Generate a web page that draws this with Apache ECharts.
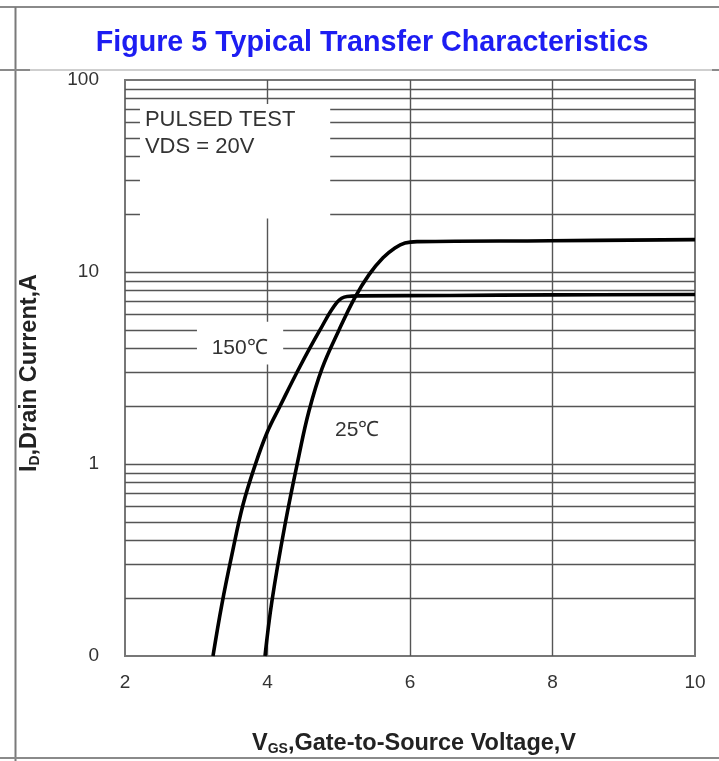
<!DOCTYPE html>
<html><head><meta charset="utf-8">
<script src="https://cdn.jsdelivr.net/npm/echarts@6/dist/echarts.min.js"></script>
<style>html,body{margin:0;padding:0;background:#fff}#c{width:719px;height:761px}</style>
</head><body><div id="c"></div>
<script>
// ---------- data ----------
const chartTitle = 'Figure 5 Typical Transfer Characteristics';
const xTicks = [2, 4, 6, 8, 10];
const yTicks = [0.1, 1, 10, 100];
const yTickLabels = ['0', '1', '10', '100'];
const vgs150 = [3.235, 3.361, 3.502, 3.656, 3.825, 3.993, 4.175, 4.456, 4.737, 4.975, 5.116, 5.298, 6.56, 7.965, 10];
const id150  = [0.1, 0.187, 0.339, 0.613, 0.984, 1.455, 2.00, 3.22, 4.99, 6.95, 7.46, 7.51, 7.55, 7.60, 7.64];
const vgs25 = [3.965, 4.063, 4.246, 4.442, 4.582, 4.765, 5.004, 5.228, 5.425, 5.621, 5.789, 5.930, 6.112, 7.965, 10];
const id25  = [0.1, 0.194, 0.484, 1.109, 1.888, 3.14, 4.99, 7.38, 9.69, 11.86, 13.34, 14.16, 14.4, 14.55, 14.75];
const gridY = [0.2,0.3,0.4,0.5,0.6,0.7,0.8,0.9,1,2,3,4,5,6,7,8,9,10,20,30,40,50,60,70,80,90];
const gridX = [4, 6, 8];
const noteText = ['PULSED TEST', 'VDS = 20V'];
const label150 = '150℃';
const label25 = '25℃';

// ---------- layout ----------
const FONT = "'Liberation Sans', Arial, sans-serif";
const labelBoxes = [{x: [2.21, 4.88], y: [19, 75]}, {x: [3.01, 4.22], y: [3.3, 5.5]}];

function cutRange(lo, hi, cuts) {
  let segs = [[lo, hi]];
  cuts.forEach(([a, b]) => {
    const out = [];
    segs.forEach(([s, e]) => {
      if (b <= s || a >= e) out.push([s, e]);
      else { if (a > s) out.push([s, a]); if (b < e) out.push([b, e]); }
    });
    segs = out;
  });
  return segs;
}
const gridSegs = [];
gridY.forEach(v => {
  const cuts = labelBoxes.filter(b => v > b.y[0] && v < b.y[1]).map(b => b.x);
  cutRange(2, 10, cuts).forEach(([s, e]) => gridSegs.push({coords: [[s, v], [e, v]]}));
});
gridX.forEach(x => {
  const cuts = labelBoxes.filter(b => x > b.x[0] && x < b.x[1]).map(b => b.y);
  cutRange(0.1, 100, cuts).forEach(([s, e]) => gridSegs.push({coords: [[x, s], [x, e]]}));
});

const zip = (xs, ys) => xs.map((x, i) => [x, ys[i]]);
const nameRich = {
  b: {fontSize: 23.5, fontWeight: 'bold', color: '#222', fontFamily: FONT},
  s: {fontSize: 14, fontWeight: 'bold', color: '#222', fontFamily: FONT, verticalAlign: 'bottom', padding: [9, 0, 0, 0]}
};

const chart = echarts.init(document.getElementById('c'));
chart.setOption({
  animation: false,
  backgroundColor: '#fff',
  textStyle: {fontFamily: FONT},
  title: {
    text: chartTitle, left: 367, top: 24, textAlign: 'center',
    textStyle: {color: '#1d1df2', fontSize: 28.7, fontWeight: 'bold', fontFamily: FONT}
  },
  grid: {left: 125, right: 24, top: 80, bottom: 98, show: true, borderColor: '#777', borderWidth: 2, backgroundColor: '#fff'},
  xAxis: {
    type: 'value', min: 2, max: 10, interval: 2,
    axisLine: {show: false}, axisTick: {show: false}, splitLine: {show: false},
    axisLabel: {fontSize: 19, color: '#333', margin: 17},
    name: '{b|V}{s|GS}{b|,Gate-to-Source Voltage,V}', nameLocation: 'middle', nameGap: 76,
    nameTextStyle: {rich: nameRich, padding: [0, 0, 0, 8]}
  },
  yAxis: {
    type: 'log', logBase: 10, min: 0.1, max: 100,
    axisLine: {show: false}, axisTick: {show: false}, splitLine: {show: false}, minorSplitLine: {show: false},
    axisLabel: {fontSize: 19, color: '#333', margin: 26,
      formatter: v => { const i = yTicks.findIndex(t => Math.abs(t - v) / t < 1e-6); return i >= 0 ? yTickLabels[i] : ''; }},
    name: '{b|I}{s|D}{b|,Drain Current,A}', nameLocation: 'middle', nameGap: 83, nameRotate: 90,
    nameTextStyle: {rich: nameRich, padding: [0, 10, 0, 0]}
  },
  series: [
    {type: 'lines', coordinateSystem: 'cartesian2d', silent: true, z: 1,
     lineStyle: {color: '#555', width: 1.4, opacity: 1}, data: gridSegs},
    {type: 'line', name: '150℃', data: zip(vgs150, id150), showSymbol: false, smooth: 0.4,
     lineStyle: {color: '#000', width: 3.6}, z: 5},
    {type: 'line', name: '25℃', data: zip(vgs25, id25), showSymbol: false, smooth: 0.4,
     lineStyle: {color: '#000', width: 3.6}, z: 5}
  ]
});

const P = (x, y) => chart.convertToPixel({gridIndex: 0}, [x, y]);
const pNote = P(2.28, 73), p150 = P(3.61, 4.0), p25 = P(5.26, 1.5);
chart.setOption({
  graphic: [
    {type: 'text', x: pNote[0], y: pNote[1], z: 10,
     style: {text: noteText.join('\n'), fill: '#333', fontSize: 22, lineHeight: 27, fontFamily: FONT, textVerticalAlign: 'top'}},
    {type: 'text', x: p150[0], y: p150[1], z: 10,
     style: {text: label150, fill: '#333', fontSize: 21, fontFamily: FONT, textAlign: 'center', textVerticalAlign: 'middle'}},
    {type: 'text', x: p25[0], y: p25[1], z: 10,
     style: {text: label25, fill: '#333', fontSize: 21, fontFamily: FONT, textAlign: 'center', textVerticalAlign: 'middle'}},
    // page frame
    {type: 'line', z: 10, shape: {x1: 0, y1: 7, x2: 719, y2: 7}, style: {stroke: '#8a8a8a', lineWidth: 2}},
    {type: 'line', z: 10, shape: {x1: 15.5, y1: 7, x2: 15.5, y2: 761}, style: {stroke: '#7a7a7a', lineWidth: 2}},
    {type: 'line', z: 10, shape: {x1: 0, y1: 70, x2: 719, y2: 70}, style: {stroke: '#cfcfcf', lineWidth: 2}},
    {type: 'line', z: 10, shape: {x1: 0, y1: 70, x2: 30, y2: 70}, style: {stroke: '#8a8a8a', lineWidth: 2}},
    {type: 'line', z: 10, shape: {x1: 712, y1: 70, x2: 719, y2: 70}, style: {stroke: '#8a8a8a', lineWidth: 2}},
    {type: 'line', z: 10, shape: {x1: 0, y1: 758, x2: 719, y2: 758}, style: {stroke: '#8a8a8a', lineWidth: 2}}
  ]
});
</script></body></html>
